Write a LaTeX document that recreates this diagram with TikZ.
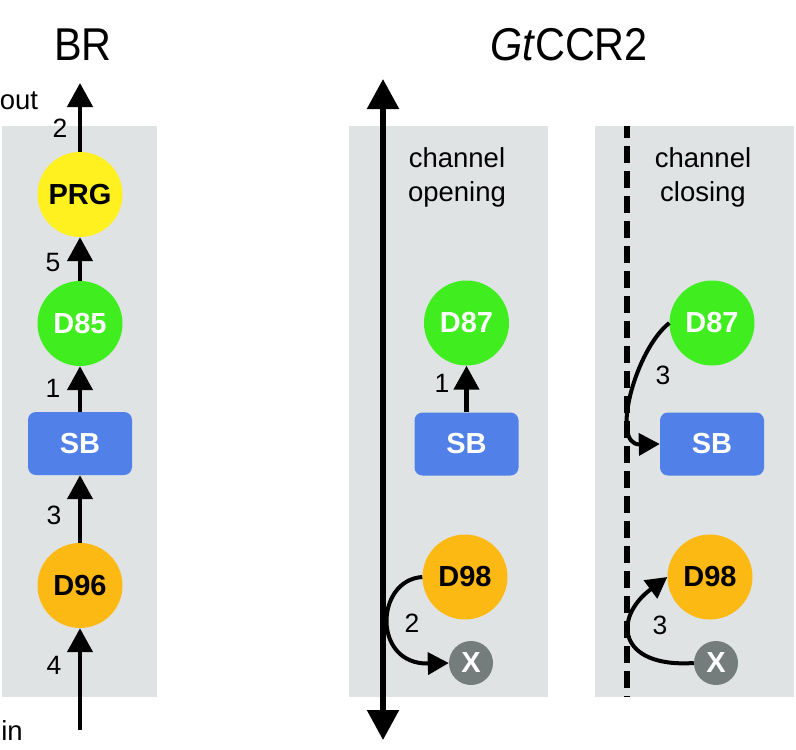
\documentclass[tikz,border=0pt]{standalone}
\usepackage{fontspec}
\setmainfont{Liberation Sans}
\newfontfamily\titlefont[FakeStretch=0.9]{Liberation Sans}
\usetikzlibrary{arrows.meta}
\definecolor{panelgray}{HTML}{E0E3E4}
\definecolor{prgyellow}{HTML}{FFF020}
\definecolor{dgreen}{HTML}{40EE20}
\definecolor{dorange}{HTML}{FDB913}
\definecolor{sbblue}{HTML}{5080E8}
\definecolor{xgray}{HTML}{747C7C}
\begin{document}
\begin{tikzpicture}[x=1pt,y=-1pt,
  panel/.style={fill=panelgray,draw=none},
  circ/.style={circle,inner sep=0pt,minimum size=85pt,font=\bfseries\fontsize{29}{29}\selectfont},
  sbbox/.style={rectangle,rounded corners=8pt,fill=sbblue,minimum width=104pt,minimum height=63pt,inner sep=0pt,text=white,font=\bfseries\fontsize{29}{29}\selectfont},
  xnode/.style={circle,inner sep=0pt,minimum size=44pt,fill=xgray,text=white,font=\bfseries\fontsize{29}{29}\selectfont},
  arr/.style={line width=4.5pt,-{Triangle[width=25pt,length=24pt]}},
  carr/.style={line width=4pt,-{Triangle[width=22pt,length=21pt]}},
  bigarr/.style={line width=5.5pt,{Triangle[width=31pt,length=30pt]}-{Triangle[width=31pt,length=30pt]}},
  dashline/.style={line width=5.5pt,dash pattern=on 17pt off 8pt,dash phase=5pt},
  num/.style={font=\fontsize{26.5}{26.5}\selectfont,inner sep=0pt},
  lbl/.style={font=\fontsize{27.5}{34}\selectfont,align=center,inner sep=0pt},
  titlenode/.style={font=\titlefont\fontsize{46}{46}\selectfont,inner sep=0pt}
]
\useasboundingbox (0,0) rectangle (796,750);

% panels
\fill[panel] (2,126) rectangle (157,697);
\fill[panel] (349,126) rectangle (548,697);
\fill[panel] (595,126) rectangle (794,697);

% titles
\node[titlenode] (tbr) at (83,44.5) {BR};
\node[titlenode] (tgt) at (569,44.5) {\textit{Gt}CCR2};

% ---------- BR column ----------
\node[circ,fill=prgyellow] (PRG) at (80,194.5) {PRG};
\node[circ,fill=dgreen,text=white] (D85) at (80,323.5) {D85};
\node[sbbox] (SBl) at (80,443.5) {SB};
\node[circ,fill=dorange] (D96) at (80,585.5) {D96};
\coordinate (inpt) at (80,730);
\coordinate (outpt) at (80,83);

\draw[arr] (inpt) -- (D96);
\draw[arr] (D96) -- (SBl);
\draw[arr] (SBl) -- (D85);
\draw[arr] (D85) -- (PRG);
\draw[arr] (PRG) -- (outpt);

\node[num] (l2) at (60,128) {2};
\node[num] (l5) at (53,263) {5};
\node[num] (l1) at (53,388) {1};
\node[num] (l3) at (54,515) {3};
\node[num] (l4) at (54,665) {4};
\node[num,font=\fontsize{27.5}{27.5}\selectfont] (tout) at (19,101) {out};
\node[num,font=\fontsize{27.5}{27.5}\selectfont] (tin) at (12,731) {in};

% ---------- channel opening ----------
\coordinate (mtop) at (383,79);
\coordinate (mbot) at (383,740);
\draw[bigarr] (mbot) -- (mtop);
\node[lbl] (txtopen) at (457,177) {channel\\opening};
\node[circ,fill=dgreen,text=white] (D87m) at (466.5,323) {D87};
\node[sbbox] (SBm) at (466.5,444) {SB};
\node[circ,fill=dorange] (D98m) at (465,577) {D98};
\node[xnode] (Xm) at (471,663) {X};
\draw[arr] (SBm) -- (D87m);
\node[num] (m1) at (442,383) {1};
\draw[carr] (D98m.west) .. controls (375,580) and (372,665) .. (Xm.west);
\node[num] (m2) at (412,623) {2};

% ---------- channel closing ----------
\coordinate (dtop) at (627,126);
\coordinate (dbot) at (627,697);
\draw[dashline] (dtop) -- (dbot);
\node[lbl] (txtclose) at (703,177) {channel\\closing};
\node[circ,fill=dgreen,text=white] (D87r) at (712,323) {D87};
\node[sbbox] (SBr) at (712,444) {SB};
\node[circ,fill=dorange] (D98r) at (710,577) {D98};
\node[xnode] (Xr) at (716,663) {X};
\draw[carr] (D87r.west) .. controls (635,350) and (610,445) .. (SBr.west);
\node[num] (r3a) at (663,375) {3};
\draw[carr] (Xr.west) .. controls (618,668) and (612,618) .. (D98r.west);
\node[num] (r3b) at (660,625) {3};
\end{tikzpicture}
\end{document}
